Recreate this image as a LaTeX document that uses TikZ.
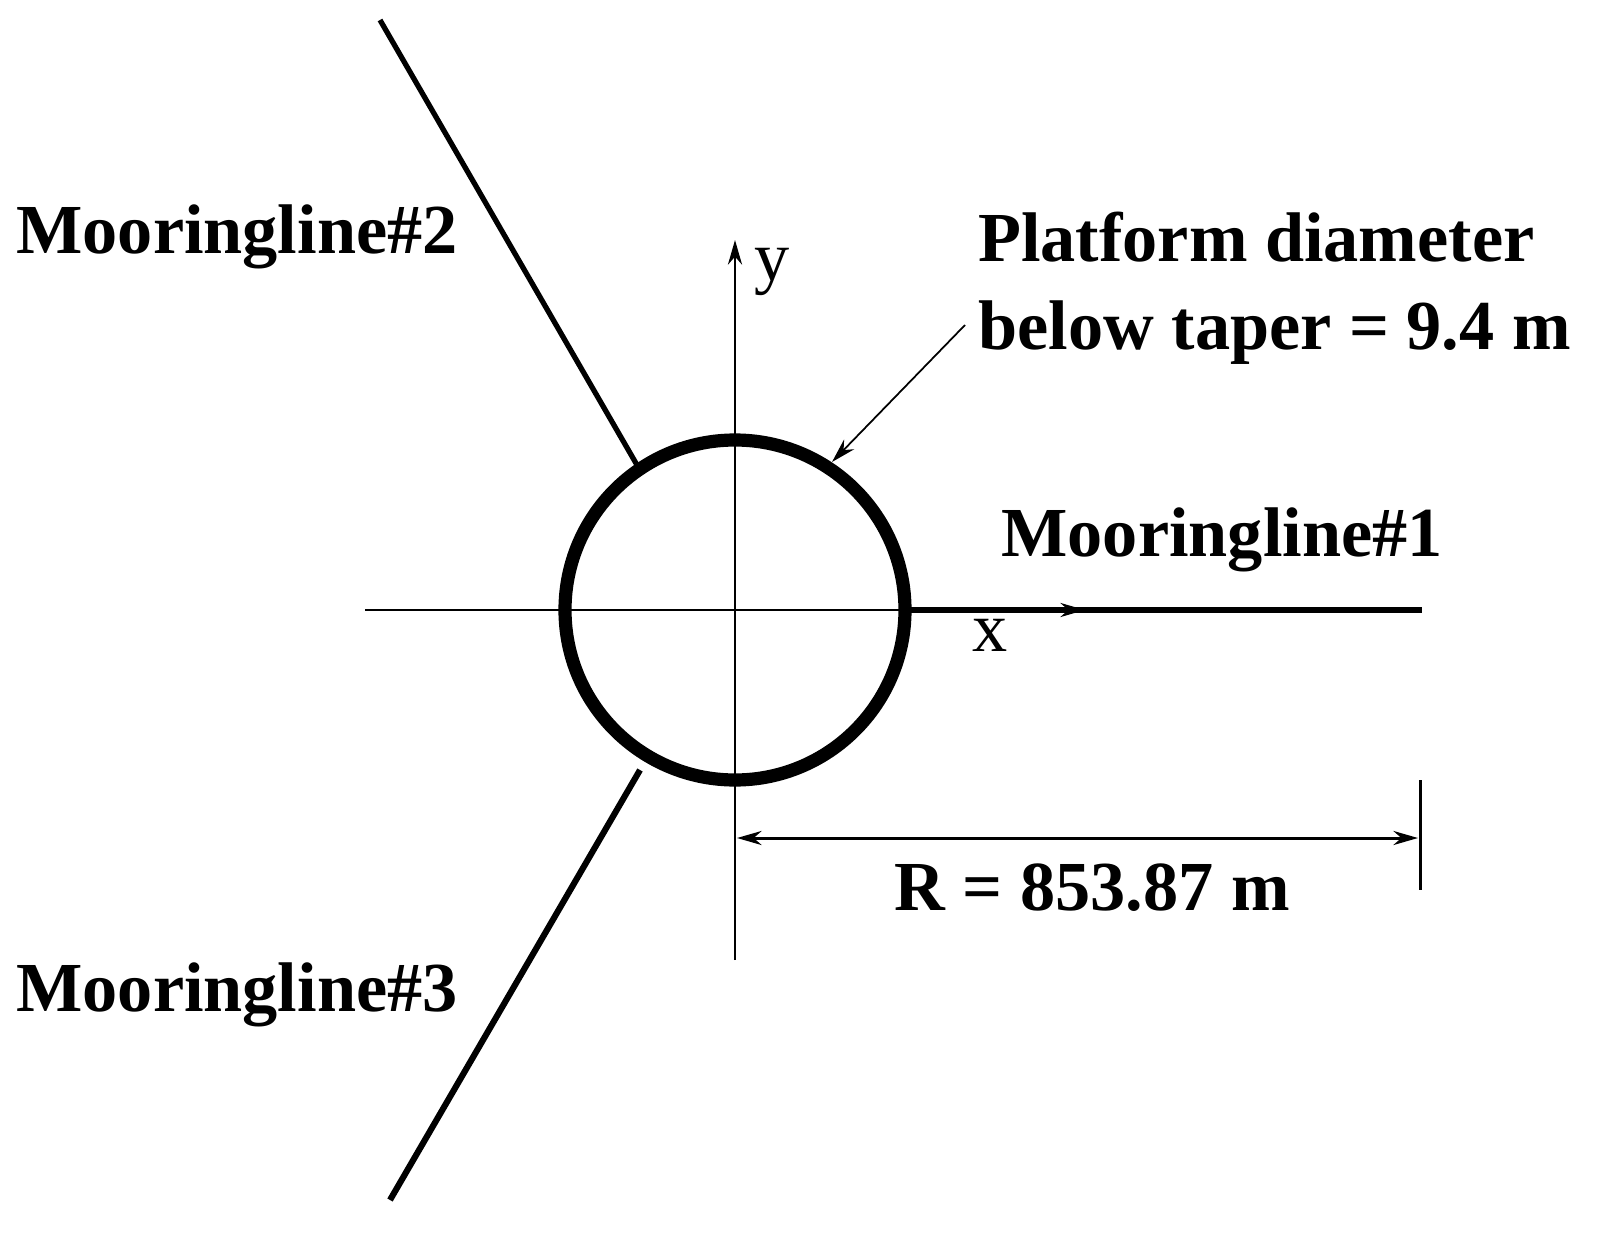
\documentclass[tikz,border=0pt]{standalone}
\usepackage{fontspec}
\setmainfont{Liberation Serif}
\usetikzlibrary{arrows.meta}
\begin{document}
\begin{tikzpicture}[x=0.02cm,y=-0.02cm,
  lbl/.style={font=\fontsize{40}{44}\selectfont\bfseries,inner sep=0},
  ax/.style={line width=1.7pt,-{Stealth[length=14pt,width=8pt]}}]
\useasboundingbox (0,0) rectangle (1597,1254);
\coordinate (c) at (735,610);
\draw[line width=7.5pt] (c) circle (170);
\coordinate (xl) at (365,610); \coordinate (xr) at (1085,610);
\coordinate (yb) at (735,960); \coordinate (yt) at (735,240);
\draw[ax] (xl) -- (xr);
\draw[ax] (yb) -- (yt);
\coordinate (m1a) at (905,610); \coordinate (m1b) at (1422,610);
\draw[line width=3pt] (m1a) -- (m1b);
\coordinate (m2a) at (380,20); \coordinate (m2b) at (637,465);
\draw[line width=3pt] (m2a) -- (m2b);
\coordinate (m3a) at (390,1200); \coordinate (m3b) at (640,770);
\draw[line width=3.5pt] (m3a) -- (m3b);
\coordinate (da) at (737,838); \coordinate (db) at (1418,838);
\draw[line width=1.7pt,{Stealth[length=14pt,width=8pt]}-{Stealth[length=14pt,width=8pt]}] (da) -- (db);
\coordinate (ta) at (1420,780); \coordinate (tb) at (1420,890);
\draw[line width=1.7pt] (ta) -- (tb);
\coordinate (aa) at (965,325); \coordinate (ab) at (832,462);
\draw[line width=1pt,-{Stealth[length=14pt,width=8pt]}] (aa) -- (ab);
\node[lbl] (l2) at (237,237) {Mooringline\#2};
\node[lbl] (l3) at (237,995) {Mooringline\#3};
\node[lbl] (l1) at (1222,540) {Mooringline\#1};
\node[lbl,anchor=west] (p1) at (978,237) {Platform diameter};
\node[lbl,anchor=west] (p2) at (978,333) {below taper = 9.4 m};
\node[lbl] (r) at (1092,888) {R = 853.87 m};
\node[font=\fontsize{40}{44}\selectfont,inner sep=0] (xlab) at (990,635) {x};
\node[font=\fontsize{40}{44}\selectfont,inner sep=0] (ylab) at (772,272) {y};
\end{tikzpicture}
\end{document}
